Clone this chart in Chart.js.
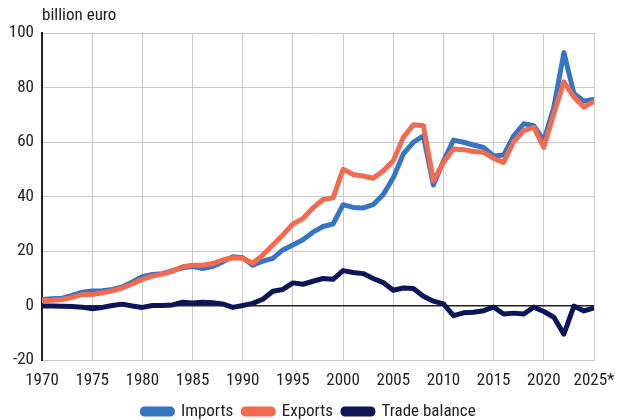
<!DOCTYPE html>
<html>
<head>
<meta charset="utf-8">
<script src="https://cdn.jsdelivr.net/npm/chart.js@4.4.1/dist/chart.umd.min.js"></script>
<style>
  html, body { margin: 0; padding: 0; background: #fff; }
  canvas { display: block; }
</style>
</head>
<body>
<canvas id="tradeChart" width="618" height="420"></canvas>
<script>
var years = [];
for (var y = 1970; y <= 2025; y++) years.push(y);

var imports = [2.2, 2.5, 2.7, 3.7, 4.9, 5.3, 5.4, 5.9, 6.8, 8.6,
               10.6, 11.4, 11.7, 12.8, 13.8, 14.3, 13.6, 14.3, 16.0, 17.9,
               17.5, 14.8, 16.3, 17.3, 20.4, 22.2, 24.1, 26.9, 29.0, 29.9,
               37.0, 36.0, 35.8, 37.0, 40.7, 46.9, 55.6, 59.9, 62.3, 44.2,
               53.0, 60.7, 59.9, 58.9, 58.0, 54.9, 55.2, 62.3, 66.7, 66.0,
               60.5, 72.8, 92.8, 77.8, 75.0, 75.7];
var exports = [1.7, 1.9, 2.2, 3.0, 4.0, 4.0, 4.7, 5.4, 6.4, 8.0,
               9.6, 10.8, 11.5, 12.6, 14.2, 14.8, 14.8, 15.4, 16.7, 17.5,
               17.3, 15.5, 18.5, 22.2, 25.9, 29.9, 31.9, 35.8, 38.9, 39.5,
               50.0, 48.1, 47.5, 46.7, 49.4, 53.1, 61.7, 66.3, 66.0, 45.7,
               52.5, 57.4, 57.2, 56.5, 56.2, 54.0, 52.5, 60.1, 64.2, 65.4,
               58.0, 70.4, 82.1, 76.5, 72.8, 74.9];
var balance = [-0.2, -0.2, -0.3, -0.4, -0.6, -1.2, -0.7, 0.0, 0.5, -0.2,
               -0.7, 0.0, 0.0, 0.2, 1.2, 0.9, 1.2, 1.0, 0.6, -0.7,
               0.0, 0.8, 2.3, 5.2, 5.9, 8.3, 7.8, 8.9, 9.9, 9.6,
               12.8, 12.1, 11.7, 9.9, 8.4, 5.6, 6.4, 6.2, 3.4, 1.6,
               0.6, -3.7, -2.7, -2.5, -1.9, -0.6, -3.1, -2.8, -3.1, -0.6,
               -2.2, -4.3, -10.5, -0.2, -2.0, -0.9];

var yTicks = [-20, 0, 20, 40, 60, 80, 100];
var xTicks = [1970, 1975, 1980, 1985, 1990, 1995, 2000, 2005, 2010, 2015, 2020, 2025];
var unitLabel = "billion euro";

function points(vals) {
    return years.map(function(yr, i) { return { x: yr, y: vals[i] }; });
}

var FONT = "'Roboto Condensed', 'Liberation Sans Narrow', Roboto, sans-serif";

var unitTitle = {
    id: "unitTitle",
    afterDraw: function(chart) {
        var ctx = chart.ctx;
        ctx.save();
        ctx.font = "17px " + FONT;
        ctx.fillStyle = "#222";
        ctx.textBaseline = "middle";
        ctx.textAlign = "left";
        ctx.fillText(unitLabel, chart.chartArea.left, 16);
        ctx.restore();
    }
};

function line(label, vals, color, order) {
    return {
        label: label,
        data: points(vals),
        borderColor: color,
        backgroundColor: color,
        borderWidth: 5,
        pointRadius: 0,
        tension: 0,
        borderJoinStyle: "round",
        order: order
    };
}

new Chart(document.getElementById("tradeChart"), {
    type: "line",
    data: {
        datasets: [
            line("Imports", imports, "#3675c1", 2),
            line("Exports", exports, "#f26a4f", 1),
            line("Trade balance", balance, "#0c1657", 0)
        ]
    },
    options: {
        responsive: false,
        animation: false,
        devicePixelRatio: 1,
        layout: { padding: { top: 33, right: 0, left: 0, bottom: -10 } },
        scales: {
            x: {
                type: "linear",
                min: 1970,
                max: 2025,
                afterBuildTicks: function(s) { s.ticks = xTicks.map(function(v) { return { value: v }; }); },
                afterFit: function(s) { s.height = 33; s.paddingRight = 24; s.paddingLeft = 0; },
                ticks: {
                    color: "#222",
                    font: { family: FONT, size: 17 },
                    padding: 11,
                    maxRotation: 0,
                    autoSkip: false,
                    callback: function(v) { return v === 2025 ? "2025*" : String(v); }
                },
                grid: { color: "#c8c8c8", lineWidth: 1, drawTicks: false },
                border: { color: "#c8c8c8", width: 1 }
            },
            y: {
                min: -20,
                max: 100,
                afterBuildTicks: function(s) { s.ticks = yTicks.map(function(v) { return { value: v }; }); },
                afterFit: function(s) { s.width = 42; },
                ticks: {
                    color: "#222",
                    font: { family: FONT, size: 17 },
                    padding: 8
                },
                grid: {
                    drawTicks: false,
                    color: function(c) { return c.tick && c.tick.value === 0 ? "#222" : "#c8c8c8"; },
                    lineWidth: function(c) { return c.tick && c.tick.value === 0 ? 1.5 : 1; }
                },
                border: { color: "#222", width: 2 }
            }
        },
        plugins: {
            legend: {
                position: "bottom",
                labels: {
                    color: "#222",
                    font: { family: FONT, size: 17 },
                    boxWidth: 30,
                    boxHeight: 5,
                    useBorderRadius: true,
                    borderRadius: 2,
                    padding: 10,
                    sort: function(a, b) { return a.datasetIndex - b.datasetIndex; }
                }
            },
            tooltip: { enabled: false }
        }
    },
    plugins: [unitTitle]
});
</script>
</body>
</html>
